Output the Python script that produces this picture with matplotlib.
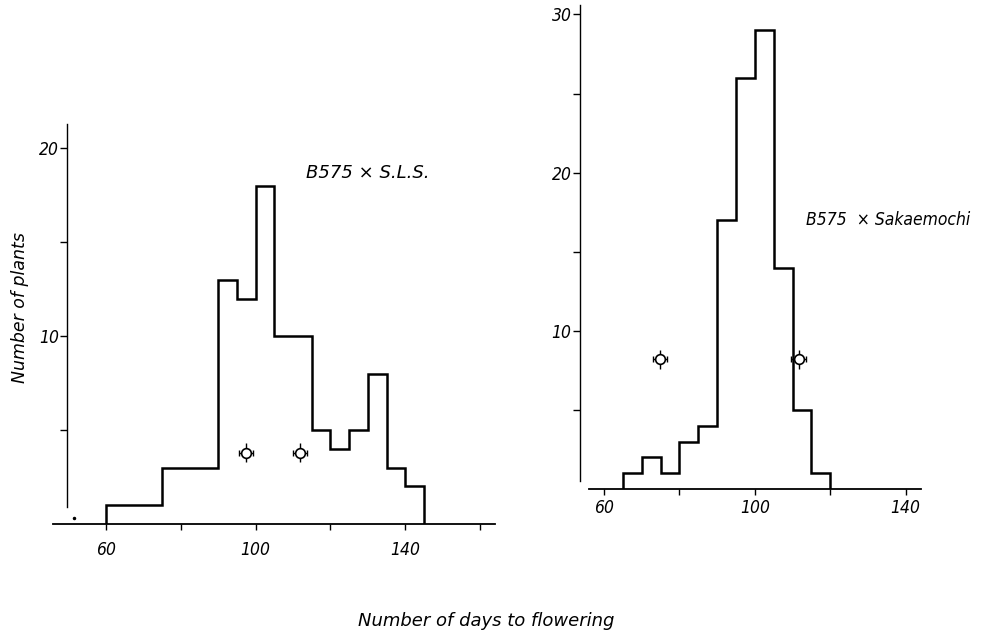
import numpy as np
import matplotlib
matplotlib.use("Agg")
import matplotlib.pyplot as plt

# ---- data ----
left_edges = [60, 65, 70, 75, 80, 85, 90, 95, 100, 105, 110, 115, 120, 125, 130, 135, 140, 145]
left_counts = [1, 1, 1, 3, 3, 3, 13, 12, 18, 10, 10, 5, 4, 5, 8, 3, 2]
left_marks_x = [97.4, 111.9]
left_marks_y = [3.8, 3.8]
left_title = "B575 × S.L.S."

right_edges = [65, 70, 75, 80, 85, 90, 95, 100, 105, 110, 115, 120]
right_counts = [1, 2, 1, 3, 4, 17, 26, 29, 14, 5, 1]
right_marks_x = [74.9, 111.6]
right_marks_y = [8.2, 8.2]
right_title = "B575  × Sakaemochi"

x_major = [60, 100, 140]
left_x_minor = [80, 120, 160]
right_x_minor = [80, 120]
left_y_major = [10, 20]
left_y_minor = [5, 15]
right_y_major = [10, 20, 30]
right_y_minor = [5, 15, 25]

xlabel = "Number of days to flowering"
ylabel = "Number of plants"

W, H = 981, 636
fig = plt.figure(figsize=(W / 100, H / 100), dpi=100)

FONT = dict(family="DejaVu Sans", style="italic")


def px_axes(left, top, right, bottom):
    return fig.add_axes([left / W, 1 - bottom / H, (right - left) / W, (bottom - top) / H])


def style(ax, xmaj, xmin, ymaj, ymin, xpad):
    for s in ("top", "right"):
        ax.spines[s].set_visible(False)
    ax.spines["bottom"].set_linewidth(1.3)
    ax.spines["left"].set_linewidth(1.0)
    ax.set_xticks(xmaj)
    ax.set_xticks(xmin, minor=True)
    ax.set_yticks(ymaj)
    ax.set_yticks(ymin, minor=True)
    ax.tick_params(axis="x", which="both", direction="out", length=4, width=1, pad=xpad)
    ax.tick_params(axis="y", which="both", direction="out", length=5, width=1, pad=1)
    for lab in ax.get_xticklabels() + ax.get_yticklabels():
        lab.set_fontfamily("DejaVu Sans")
        lab.set_fontstyle("italic")
        lab.set_fontstretch("condensed")
        lab.set_fontsize(12.5)


def markers(ax, xs, ys, xe, ye):
    ax.errorbar(xs, ys, xerr=xe, fmt="none", ecolor="black", elinewidth=1.0, capsize=2.5, capthick=1.0)
    ax.errorbar(xs, ys, yerr=ye, fmt="none", ecolor="black", elinewidth=1.0, capsize=0)
    ax.plot(xs, ys, "o", ms=7, mfc="white", mec="black", mew=1.2, ls="none")


# ---- left panel ----
axL = px_axes(53, 124, 495, 524)
axL.stairs(left_counts, left_edges, color="black", linewidth=1.8, baseline=0)
axL.set_xlim(45.8, 164.0)
axL.set_ylim(0, 21.3)
axL.spines["left"].set_position(("data", 49.6))
axL.spines["left"].set_bounds(0.9, 21.3)
style(axL, x_major, left_x_minor, left_y_major, left_y_minor, 8)
markers(axL, left_marks_x, left_marks_y, 1.9, 0.5)
axL.plot([51.4], [0.32], "o", ms=1.5, color="black")
axL.text(113.5, 18.7, left_title, fontsize=13, va="center", ha="left", **FONT)

# ---- right panel ----
axR = px_axes(580, 5, 921, 489)
axR.stairs(right_counts, right_edges, color="black", linewidth=1.8, baseline=0)
axR.set_xlim(53.6, 144.1)
axR.set_ylim(0, 30.6)
axR.spines["bottom"].set_bounds(56.0, 144.1)
axR.spines["left"].set_bounds(0.5, 30.6)
style(axR, x_major, right_x_minor, right_y_major, right_y_minor, 3)
markers(axR, right_marks_x, right_marks_y, 1.9, 0.6)
axR.text(113.6, 17.0, right_title, fontsize=12.5, va="center", ha="left",
         stretch="condensed", **FONT)

fig.text(20 / W, 1 - 308 / H, ylabel, rotation=90, ha="center", va="center", fontsize=12.5, **FONT)
fig.text(486 / W, 1 - 621 / H, xlabel, ha="center", va="center", fontsize=13, **FONT)

fig.savefig("out.png", dpi=100, facecolor="white")
